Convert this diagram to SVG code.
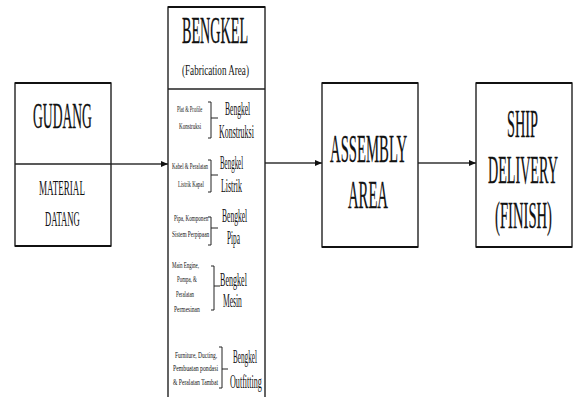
<svg xmlns="http://www.w3.org/2000/svg" width="573" height="397" viewBox="0 0 573 397">
  <style>
    .box { fill: #ffffff; stroke: #222; stroke-width: 1.4; }
    .edge { stroke: #111; stroke-width: 2; }
    .div { stroke: #222; stroke-width: 1.6; }
    .t { font-family: "Liberation Serif", "Times New Roman", serif; fill: #111; }
    .big { font-size: 40px; stroke: #111; stroke-width: 0.3; }
    .mid { font-size: 20px; }
    .lab { font-size: 19px; }
    .sm { font-size: 8.5px; }
    .cap { font-size: 14px; }
    .conn { stroke: #333; stroke-width: 1.5; fill: none; }
    .br { stroke: #222; stroke-width: 1; fill: none; }
  </style>
  <defs>
    <marker id="arrow" viewBox="0 0 10 10" refX="10" refY="5" markerWidth="7" markerHeight="6" markerUnits="userSpaceOnUse" orient="auto" preserveAspectRatio="none">
      <path d="M0,0 L10,5 L0,10 Z" fill="#111"/>
    </marker>
  </defs>

  <rect width="573" height="397" fill="#ffffff"/>

  <!-- connectors -->
  <g id="connectors">
    <line class="conn" x1="111" y1="164" x2="168" y2="164" marker-end="url(#arrow)"/>
    <line class="conn" x1="265" y1="163" x2="322" y2="163" marker-end="url(#arrow)"/>
    <line class="conn" x1="418" y1="163" x2="476" y2="163" marker-end="url(#arrow)"/>
  </g>

  <!-- storage -->
  <g id="gudang">
    <rect class="box" x="15" y="83" width="96" height="163"/>
    <line class="edge" x1="15" y1="83" x2="111" y2="83"/>
    <line class="edge" x1="15" y1="246" x2="111" y2="246"/>
    <line class="div" x1="15" y1="164" x2="111" y2="164"/>
    <text class="t big" style="font-size:35px" transform="translate(33,128) scale(0.38,1)" textLength="155" lengthAdjust="spacingAndGlyphs">GUDANG</text>
    <text class="t mid" transform="translate(39,195) scale(0.43,1)" textLength="107" lengthAdjust="spacingAndGlyphs">MATERIAL</text>
    <text class="t mid" transform="translate(45,226) scale(0.43,1)" textLength="81" lengthAdjust="spacingAndGlyphs">DATANG</text>
  </g>

  <!-- workshops -->
  <g id="bengkel">
    <rect class="box" x="168" y="7" width="97" height="400"/>
    <line class="edge" x1="168" y1="7" x2="265" y2="7"/>
    <line class="div" x1="168" y1="89" x2="265" y2="89"/>
    <text class="t big" style="font-size:37px" transform="translate(182,43) scale(0.38,1)" textLength="174" lengthAdjust="spacingAndGlyphs">BENGKEL</text>
    <text class="t cap" transform="translate(182,75) scale(0.65,1)" textLength="103" lengthAdjust="spacingAndGlyphs">(Fabrication Area)</text>

    <g id="konstruksi">
      <text class="t sm" transform="translate(177,112) scale(0.6,1)" textLength="42" lengthAdjust="spacingAndGlyphs">Plat &amp; Profile</text>
      <text class="t sm" transform="translate(179,129) scale(0.6,1)" textLength="37" lengthAdjust="spacingAndGlyphs">Konstruksi</text>
      <path class="br" d="M208,102 H211 V138 H208 M211,118 H218"/>
      <text class="t lab" transform="translate(225,115) scale(0.42,1)" textLength="60" lengthAdjust="spacingAndGlyphs">Bengkel</text>
      <text class="t lab" transform="translate(219,138) scale(0.42,1)" textLength="83" lengthAdjust="spacingAndGlyphs">Konstruksi</text>
    </g>

    <g id="listrik">
      <text class="t sm" transform="translate(172,169) scale(0.6,1)" textLength="60" lengthAdjust="spacingAndGlyphs">Kabel &amp; Peralatan</text>
      <text class="t sm" transform="translate(178,187) scale(0.6,1)" textLength="43" lengthAdjust="spacingAndGlyphs">Listrik Kapal</text>
      <path class="br" d="M208,160 H211 V192 H208 M211,175 H218"/>
      <text class="t lab" transform="translate(220,169) scale(0.42,1)" textLength="55" lengthAdjust="spacingAndGlyphs">Bengkel</text>
      <text class="t lab" transform="translate(221,192) scale(0.42,1)" textLength="50" lengthAdjust="spacingAndGlyphs">Listrik</text>
    </g>

    <g id="pipa">
      <text class="t sm" transform="translate(174,221) scale(0.6,1)" textLength="57" lengthAdjust="spacingAndGlyphs">Pipa, Komponen</text>
      <text class="t sm" transform="translate(172,237) scale(0.6,1)" textLength="62" lengthAdjust="spacingAndGlyphs">Sistem Perpipaan</text>
      <path class="br" d="M208,217 H211 V245 H208 M211,228 H218"/>
      <text class="t lab" transform="translate(222,222) scale(0.42,1)" textLength="60" lengthAdjust="spacingAndGlyphs">Bengkel</text>
      <text class="t lab" transform="translate(227,244) scale(0.42,1)" textLength="31" lengthAdjust="spacingAndGlyphs">Pipa</text>
    </g>

    <g id="mesin">
      <text class="t sm" transform="translate(172,268) scale(0.6,1)" textLength="45" lengthAdjust="spacingAndGlyphs">Main Engine,</text>
      <text class="t sm" transform="translate(177,282) scale(0.6,1)" textLength="33" lengthAdjust="spacingAndGlyphs">Pompa, &amp;</text>
      <text class="t sm" transform="translate(176,297) scale(0.6,1)" textLength="30" lengthAdjust="spacingAndGlyphs">Peralatan</text>
      <text class="t sm" transform="translate(174,312) scale(0.6,1)" textLength="43" lengthAdjust="spacingAndGlyphs">Permesinan</text>
      <path class="br" d="M211,266 H214 V310 H211 M214,286 H220"/>
      <text class="t lab" transform="translate(220,286) scale(0.42,1)" textLength="64" lengthAdjust="spacingAndGlyphs">Bengkel</text>
      <text class="t lab" transform="translate(223,307) scale(0.42,1)" textLength="45" lengthAdjust="spacingAndGlyphs">Mesin</text>
    </g>

    <g id="outfitting">
      <text class="t sm" transform="translate(175,358) scale(0.6,1)" textLength="70" lengthAdjust="spacingAndGlyphs">Furniture, Ducting,</text>
      <text class="t sm" transform="translate(173,371) scale(0.6,1)" textLength="75" lengthAdjust="spacingAndGlyphs">Pembuatan pondasi</text>
      <text class="t sm" transform="translate(173,385) scale(0.6,1)" textLength="75" lengthAdjust="spacingAndGlyphs">&amp; Peralatan Tambat</text>
      <path class="br" d="M219,347 H222 V388 H219 M222,369 H228"/>
      <text class="t lab" transform="translate(233,363) scale(0.42,1)" textLength="57" lengthAdjust="spacingAndGlyphs">Bengkel</text>
      <text class="t lab" transform="translate(230,388) scale(0.42,1)" textLength="76" lengthAdjust="spacingAndGlyphs">Outfitting</text>
    </g>
  </g>

  <!-- assembly -->
  <g id="assembly">
    <rect class="box" x="322" y="83" width="96" height="164"/>
    <line class="edge" x1="322" y1="83" x2="418" y2="83"/>
    <line class="edge" x1="322" y1="247" x2="418" y2="247"/>
    <text class="t big" style="font-size:41px" transform="translate(330,162) scale(0.36,1)" textLength="214" lengthAdjust="spacingAndGlyphs">ASSEMBLY</text>
    <text class="t big" style="font-size:41px" transform="translate(348,208) scale(0.36,1)" textLength="111" lengthAdjust="spacingAndGlyphs">AREA</text>
  </g>

  <!-- delivery -->
  <g id="delivery">
    <rect class="box" x="476" y="83" width="96" height="164"/>
    <line class="edge" x1="476" y1="83" x2="572" y2="83"/>
    <line class="edge" x1="476" y1="247" x2="572" y2="247"/>
    <text class="t big" style="font-size:41px" transform="translate(507,137) scale(0.36,1)" textLength="86" lengthAdjust="spacingAndGlyphs">SHIP</text>
    <text class="t big" style="font-size:41px" transform="translate(488,183) scale(0.36,1)" textLength="194" lengthAdjust="spacingAndGlyphs">DELIVERY</text>
    <text class="t big" style="font-size:38px" transform="translate(495,228) scale(0.38,1)" textLength="150" lengthAdjust="spacingAndGlyphs">(FINISH)</text>
  </g>
</svg>
